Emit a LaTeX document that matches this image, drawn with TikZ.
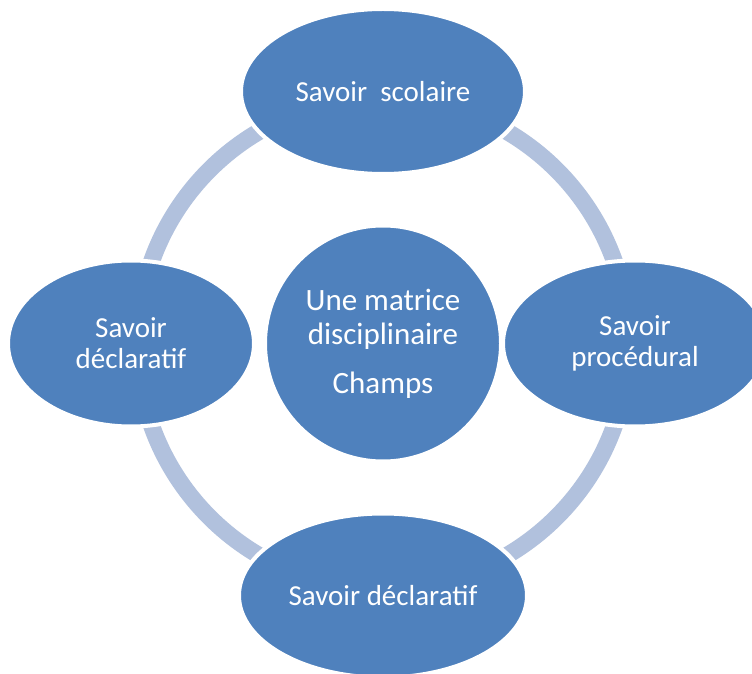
\documentclass[tikz,border=0pt]{standalone}
\usepackage{fontspec}
\setmainfont{Carlito}
\usepackage{tikz}
\usetikzlibrary{positioning}
\usetikzlibrary{shapes.geometric}
\usetikzlibrary{backgrounds}

\definecolor{ovalblue}{RGB}{79,129,189}
\definecolor{ringblue}{RGB}{177,193,221}

\begin{document}
\begin{tikzpicture}[x=1pt, y=1pt, node distance=252pt,
    oval/.style = {ellipse, fill=ovalblue, draw=white, line width=4pt, inner sep=0pt, text=white, align=center, font=\fontsize{29}{31}\selectfont},
    disc/.style = {circle, fill=ovalblue, draw=white, line width=4pt, inner sep=0pt, minimum size=236pt, text=white, align=center, font=\fontsize{31}{34.5}\selectfont},
    ring/.style = {draw=ringblue, line width=17pt}]
          \useasboundingbox (0,0) rectangle (752,673);
          \clip (0,0) rectangle (752,673);
          \node[disc](matrice) at (383,329.5){Une matrice\\disciplinaire\\[14pt]Champs};
          \node[oval, minimum width=284pt, minimum height=165pt](scolaire)[above of=matrice]{Savoir\ \ scolaire};
          \node[oval, minimum width=246pt, minimum height=166pt](declaratif)[left of=matrice]{Savoir\\d\'eclaratif};
          \node[oval, minimum width=264pt, minimum height=166pt](procedural)[right of=matrice]{Savoir\\proc\'edural};
          \node[oval, minimum width=288pt, minimum height=164pt](declaratifb)[below of=matrice]{Savoir d\'eclaratif};
          \begin{scope}[on background layer]
            \fill[white] (0,0) rectangle (752,673);
            \draw[ring] (matrice) circle[radius=245.5pt];
          \end{scope}
        \end{tikzpicture}
\end{document}
